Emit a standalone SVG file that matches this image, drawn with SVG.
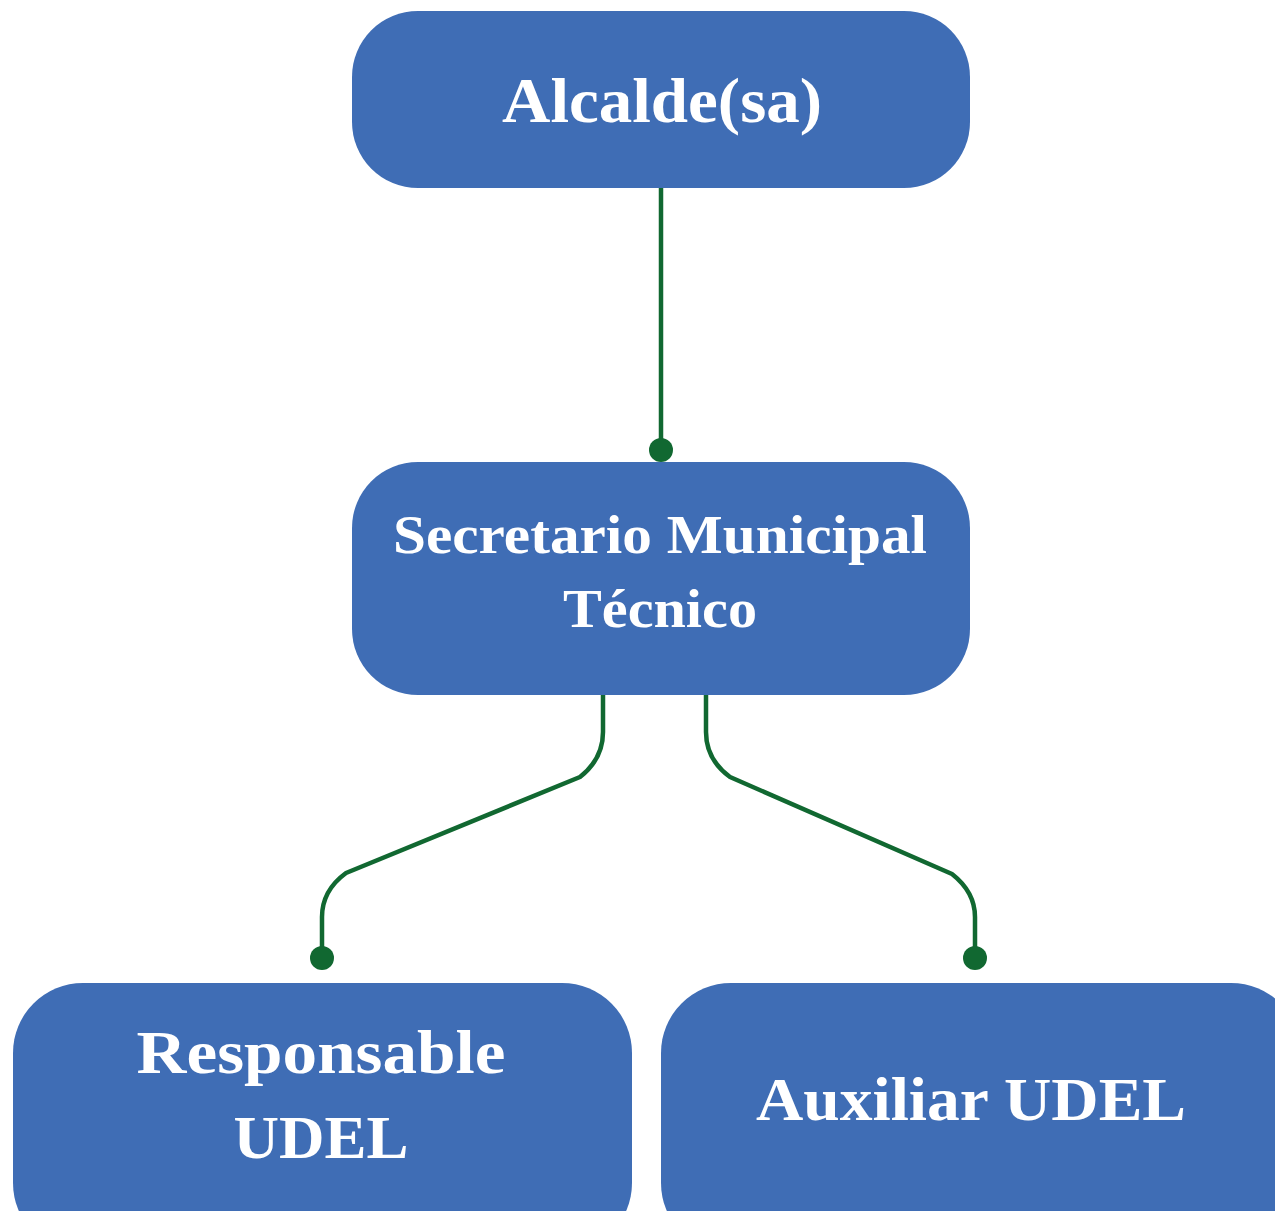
<svg xmlns="http://www.w3.org/2000/svg" width="1275" height="1211" viewBox="0 0 1275 1211">
<defs>
<style>
.node{fill:#3F6DB5;}
.lbl{fill:#ffffff;font-family:"Liberation Serif","DejaVu Serif",serif;font-weight:bold;text-anchor:middle;}
.conn{fill:none;stroke:#116831;stroke-width:4.5;stroke-linejoin:round;}
.dot{fill:#116831;}
</style>
</defs>
<rect width="1275" height="1211" fill="#ffffff"/>
<g id="connectors">
<path class="conn" d="M661,188 V450"/>
<circle class="dot" cx="661" cy="450" r="12"/>
<path class="conn" d="M603,695 V732 C603,752 594,766 580,777 L346,873 C331,884 322,898 322,917 V958"/>
<circle class="dot" cx="322" cy="958" r="12"/>
<path class="conn" d="M706,695 V732 C706,752 715,766 730,777 L952,874 C966,885 975,898 975,917 V958"/>
<circle class="dot" cx="975" cy="958" r="12"/>
</g>
<g id="alcalde">
<rect class="node" x="352" y="11" width="618" height="177" rx="66" ry="66"/>
<text class="lbl" x="662" y="122" font-size="64" textLength="320" lengthAdjust="spacingAndGlyphs">Alcalde(sa)</text>
</g>
<g id="secretario">
<rect class="node" x="352" y="462" width="618" height="233" rx="66" ry="66"/>
<text class="lbl" x="660" y="553" font-size="54" textLength="534" lengthAdjust="spacingAndGlyphs">Secretario Municipal</text>
<text class="lbl" x="660" y="627" font-size="54" textLength="194" lengthAdjust="spacingAndGlyphs">Técnico</text>
</g>
<g id="responsable">
<rect class="node" x="13" y="983" width="619" height="270" rx="70" ry="70"/>
<text class="lbl" x="321" y="1073" font-size="62" textLength="369" lengthAdjust="spacingAndGlyphs">Responsable</text>
<text class="lbl" x="321" y="1158" font-size="62" textLength="175" lengthAdjust="spacingAndGlyphs">UDEL</text>
</g>
<g id="auxiliar">
<rect class="node" x="661" y="983" width="640" height="270" rx="70" ry="70"/>
<text class="lbl" x="971" y="1120" font-size="62" textLength="430" lengthAdjust="spacingAndGlyphs">Auxiliar UDEL</text>
</g>
</svg>
